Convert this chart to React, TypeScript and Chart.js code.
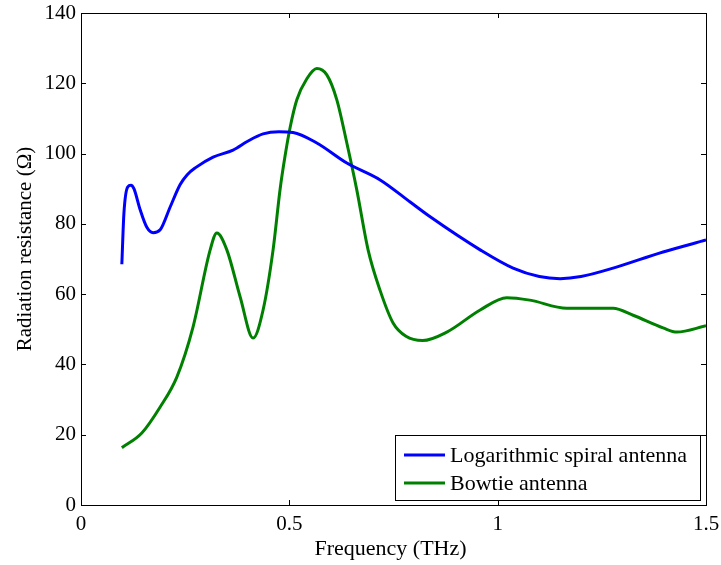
import React, { useEffect, useRef } from "react";
import { Chart, registerables } from "chart.js";

Chart.register(...registerables);

const spiralX = [0.098, 0.103, 0.112, 0.12, 0.127, 0.142, 0.158, 0.173, 0.19, 0.214, 0.238, 0.255, 0.275, 0.317, 0.365, 0.4, 0.437, 0.475, 0.509, 0.566, 0.638, 0.718, 0.79, 0.838, 0.958, 1.037, 1.1, 1.15, 1.2, 1.277, 1.397, 1.5];
const spiralY = [68.5, 83, 90.5, 91, 90, 84, 79, 77.5, 78.3, 84.8, 91.2, 94, 96, 99, 101, 103.5, 105.6, 106.2, 106, 103, 97.3, 92.5, 86.2, 82, 72.6, 67.4, 65, 64.4, 65, 67.4, 72, 75.4];

const bowtieX = [0.098, 0.146, 0.19, 0.23, 0.269, 0.31, 0.326, 0.35, 0.382, 0.413, 0.437, 0.461, 0.478, 0.49, 0.502, 0.518, 0.542, 0.566, 0.59, 0.614, 0.638, 0.662, 0.689, 0.718, 0.749, 0.78, 0.82, 0.878, 0.958, 1.022, 1.077, 1.166, 1.277, 1.325, 1.397, 1.43, 1.5];
const bowtieY = [16.3, 20.5, 27.9, 36.4, 50.7, 72.6, 77.4, 72.6, 59.2, 47.5, 55.5, 72.6, 90, 99.5, 107.5, 115.3, 121.3, 124.2, 122.4, 115.3, 103, 89.6, 72.6, 61, 51.8, 48, 46.8, 49.2, 55.5, 59, 58.3, 56, 56, 54, 50.4, 49.2, 51];

const xTicks = [0, 0.5, 1, 1.5];
const yTicks = [0, 20, 40, 60, 80, 100, 120, 140];
const seriesNames = ["Logarithmic spiral antenna", "Bowtie antenna"];
const seriesColors = ["#0000ff", "#008000"];
const xTitle = "Frequency (THz)";
const yTitle = "Radiation resistance (\u03a9)";

const FONT = "'Liberation Serif', 'Times New Roman', serif";

const boxPlugin = {
  id: "boxPlugin",
  afterDraw(chart: any) {
    const { ctx, chartArea: a, scales } = chart;
    ctx.save();
    ctx.strokeStyle = "#000";
    ctx.lineWidth = 1;
    ctx.strokeRect(Math.round(a.left) + 0.5, Math.round(a.top) + 0.5, Math.round(a.right - a.left), Math.round(a.bottom - a.top));
    const t = 5;
    ctx.beginPath();
    for (const v of xTicks) {
      const px = Math.round(scales.x.getPixelForValue(v)) + 0.5;
      ctx.moveTo(px, a.bottom);
      ctx.lineTo(px, a.bottom - t);
      ctx.moveTo(px, a.top);
      ctx.lineTo(px, a.top + t);
    }
    for (const v of yTicks) {
      const py = Math.round(scales.y.getPixelForValue(v)) + 0.5;
      ctx.moveTo(a.left, py);
      ctx.lineTo(a.left + t, py);
      ctx.moveTo(a.right, py);
      ctx.lineTo(a.right - t, py);
    }
    ctx.stroke();

    // axis titles
    ctx.fillStyle = "#000";
    ctx.textAlign = "center";
    ctx.textBaseline = "middle";
    ctx.font = `22px ${FONT}`;
    ctx.fillText(xTitle, (a.left + a.right) / 2 - 3, 549);
    ctx.save();
    ctx.translate(25, 249);
    ctx.rotate(-Math.PI / 2);
    ctx.font = `21px ${FONT}`;
    ctx.fillText(yTitle, 0, 0);
    ctx.restore();

    // legend
    const lx = a.right - 311;
    const ly = a.bottom - 70;
    const lw = 305;
    const lh = 65;
    ctx.fillStyle = "#fff";
    ctx.fillRect(lx, ly, lw, lh);
    ctx.strokeStyle = "#000";
    ctx.lineWidth = 1;
    ctx.strokeRect(lx + 0.5, ly + 0.5, lw, lh);
    ctx.font = `22px ${FONT}`;
    ctx.textBaseline = "middle";
    ctx.textAlign = "left";
    seriesNames.forEach((name, i) => {
      const yy = ly + 20 + i * 28;
      ctx.strokeStyle = seriesColors[i];
      ctx.lineWidth = 3;
      ctx.beginPath();
      ctx.moveTo(lx + 9, yy);
      ctx.lineTo(lx + 50, yy);
      ctx.stroke();
      ctx.fillStyle = "#000";
      ctx.fillText(name, lx + 55, yy + 1);
    });
    ctx.restore();
  },
};

export default function App() {
  const ref = useRef<HTMLCanvasElement | null>(null);
  useEffect(() => {
    document.body.style.margin = "0";
    const canvas = ref.current;
    if (!canvas) return;
    const chart = new Chart(canvas, {
      type: "line",
      data: {
        datasets: [
          {
            label: seriesNames[0],
            data: spiralX.map((x, i) => ({ x, y: spiralY[i] })),
            borderColor: seriesColors[0],
            borderWidth: 3,
            pointRadius: 0,
            cubicInterpolationMode: "monotone",
            fill: false,
          },
          {
            label: seriesNames[1],
            data: bowtieX.map((x, i) => ({ x, y: bowtieY[i] })),
            borderColor: seriesColors[1],
            borderWidth: 3,
            pointRadius: 0,
            cubicInterpolationMode: "monotone",
            fill: false,
          },
        ],
      },
      options: {
        animation: false,
        responsive: false,
        layout: { padding: { top: 13, right: 15, left: 0, bottom: 0 } },
        plugins: { legend: { display: false }, tooltip: { enabled: false } },
        scales: {
          x: {
            type: "linear",
            min: 0,
            max: 1.5,
            afterBuildTicks: (s: any) => { s.ticks = xTicks.map((v) => ({ value: v })); },
            afterFit: (s: any) => { s.height = 60; s.paddingLeft = 0; s.paddingRight = 0; },
            grid: { display: false, drawTicks: false },
            border: { display: false },
            ticks: { color: "#000", font: { family: FONT, size: 21 }, padding: 7, maxRotation: 0, callback: (v: any) => String(v) },
            title: { display: false },
          },
          y: {
            type: "linear",
            min: 0,
            max: 140,
            afterBuildTicks: (s: any) => { s.ticks = yTicks.map((v) => ({ value: v })); },
            afterFit: (s: any) => { s.width = 81; s.paddingTop = 0; s.paddingBottom = 0; },
            grid: { display: false, drawTicks: false },
            border: { display: false },
            ticks: { color: "#000", font: { family: FONT, size: 21 }, padding: 5 },
            title: { display: false },
          },
        },
      },
      plugins: [boxPlugin],
    } as any);
    return () => chart.destroy();
  }, []);
  return (
    <div style={{ width: 721, height: 565 }}>
      <canvas ref={ref} width={721} height={565} style={{ display: "block" }} />
    </div>
  );
}
